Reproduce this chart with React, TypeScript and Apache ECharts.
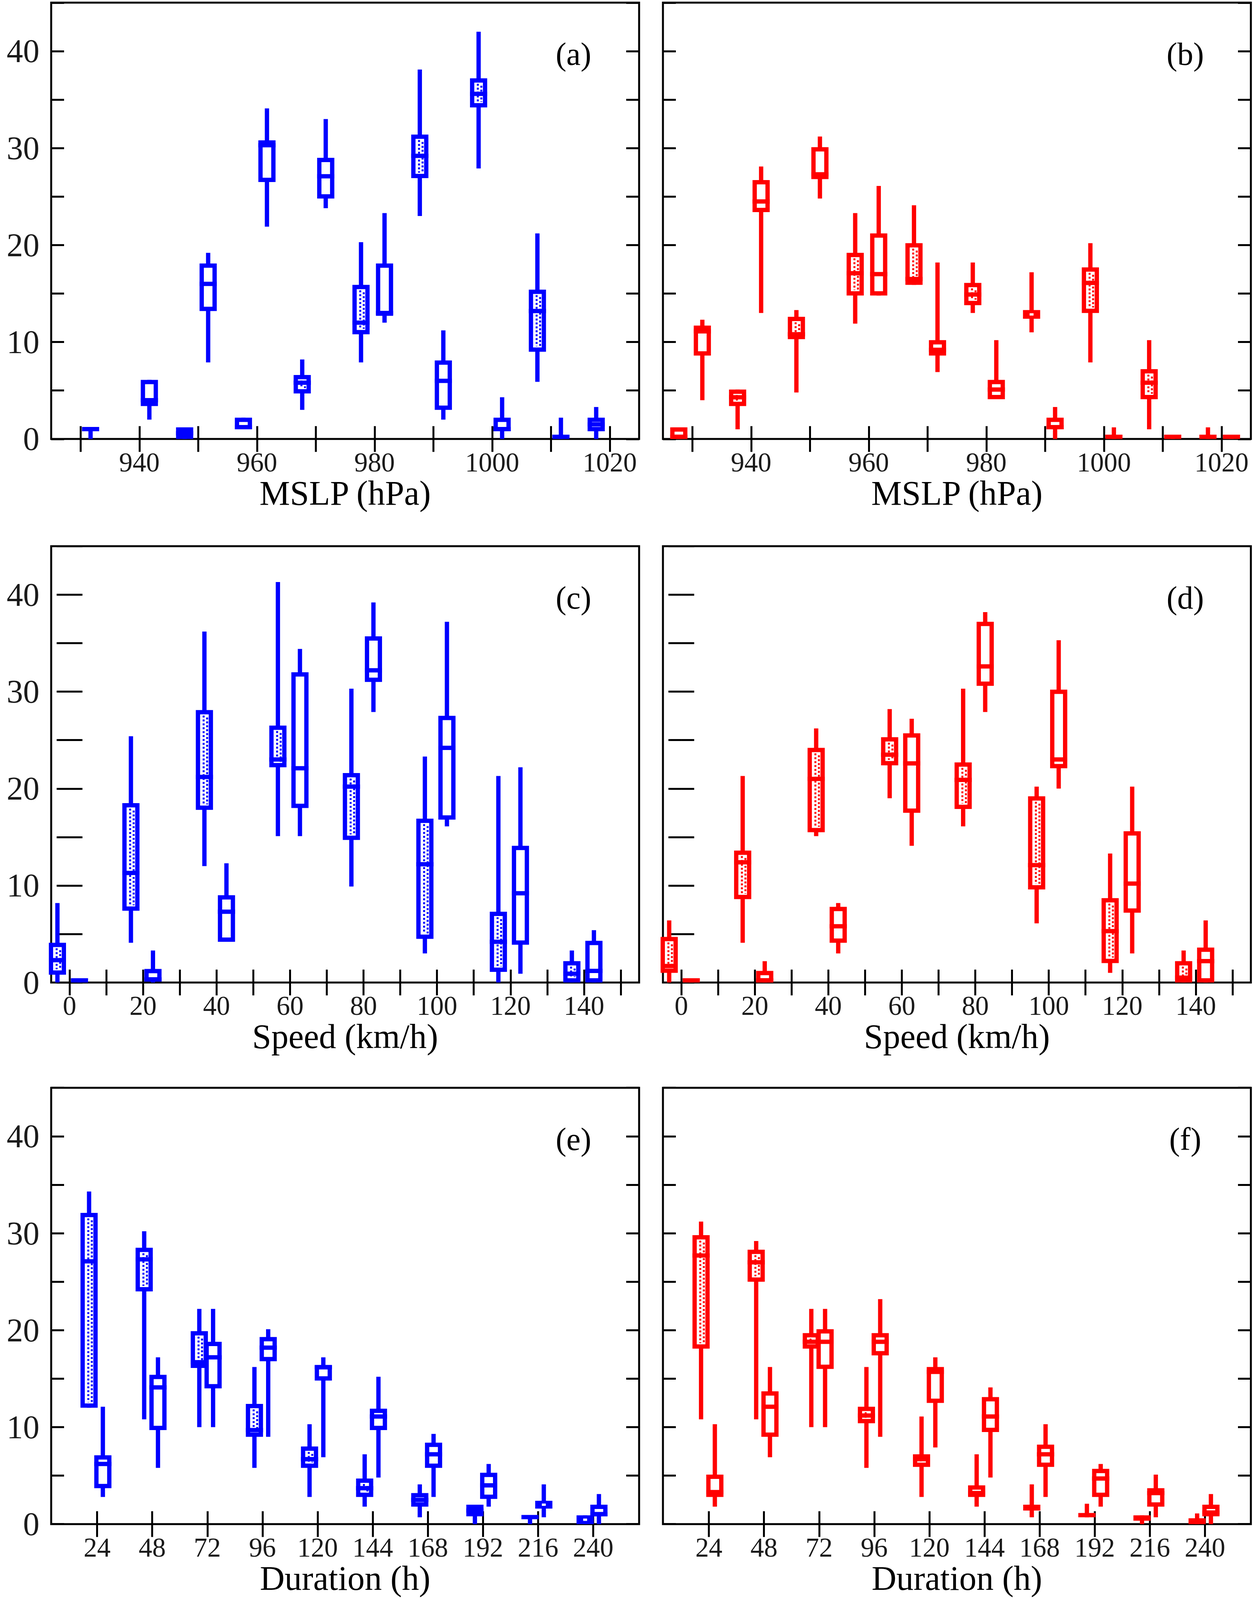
import React, { useEffect, useRef } from "react";
import * as echarts from "echarts";

// ---------- data ----------
type Box = [number, number, number, number, number] | null; // [min, q1, median, q3, max]

const MSLP_BINS = [930, 940, 950, 960, 970, 980, 990, 1000, 1010, 1020];
const SPEED_BINS = [0, 20, 40, 60, 80, 100, 120, 140];
const DURATION_BINS = [24, 48, 72, 96, 120, 144, 168, 192, 216, 240];

const MSLP_TICKS = [930, 940, 950, 960, 970, 980, 990, 1000, 1010, 1020];
const MSLP_LABELS = [940, 960, 980, 1000, 1020];
const SPEED_TICKS = [0, 10, 20, 30, 40, 50, 60, 70, 80, 90, 100, 110, 120, 130, 140, 150];
const SPEED_LABELS = [0, 20, 40, 60, 80, 100, 120, 140];
const DURATION_TICKS = [24, 48, 72, 96, 120, 144, 168, 192, 216, 240];
const DURATION_LABELS = [24, 48, 72, 96, 120, 144, 168, 192, 216, 240];
const Y_LABELS = [0, 10, 20, 30, 40];

// (a) MSLP, blue
const aDotted: Box[] = [
  null,
  null,
  [0, 0, 0.6, 1.2, 1.2],
  [1.0, 1.0, 1.0, 2.2, 2.2],
  [3.0, 4.7, 5.8, 6.6, 8.2],
  [7.9, 10.8, 12.0, 15.9, 20.3],
  [23.0, 26.9, 29.2, 31.4, 38.1],
  [27.9, 34.2, 35.6, 37.2, 42.0],
  [5.9, 9.0, 13.2, 15.4, 21.2],
  [0, 0.8, 1.5, 2.2, 3.3],
];
const aPlain: Box[] = [
  [0, 0.8, 1.0, 1.2, 1.2],
  [2.0, 3.4, 4.0, 6.1, 6.1],
  [7.9, 13.2, 16.0, 18.1, 19.2],
  [21.9, 26.5, 30.3, 30.8, 34.1],
  [23.8, 24.8, 27.1, 29.0, 33.0],
  [12.0, 12.7, 13.0, 18.1, 23.3],
  [2.0, 3.0, 6.0, 8.1, 11.2],
  [0, 0.8, 0.8, 2.2, 4.3],
  [0, 0, 0, 0.2, 2.2],
  null,
];

// (b) MSLP, red
const bDotted: Box[] = [
  [0, 0, 0, 1.2, 1.2],
  [1.0, 3.4, 4.3, 5.1, 5.1],
  [4.8, 10.3, 10.8, 12.6, 13.3],
  [11.9, 14.8, 17.1, 19.2, 23.3],
  [15.9, 15.9, 16.5, 20.2, 24.1],
  [13.0, 13.8, 14.9, 16.1, 18.2],
  [11.0, 12.4, 12.8, 13.3, 17.2],
  [7.9, 13.0, 16.1, 17.7, 20.2],
  [1.0, 4.1, 5.8, 7.2, 10.2],
  [0, 0, 0, 0.2, 1.2],
];
const bPlain: Box[] = [
  [4.0, 8.6, 11.1, 11.7, 12.3],
  [13.0, 23.4, 24.5, 26.7, 28.1],
  [24.8, 26.8, 27.3, 30.1, 31.2],
  [14.8, 14.8, 17.0, 21.2, 26.1],
  [6.9, 8.6, 9.2, 10.2, 18.2],
  [4.1, 4.1, 5.1, 6.1, 10.2],
  [0, 1.0, 1.0, 2.2, 3.3],
  [0, 0, 0, 0.2, 1.2],
  [0, 0, 0, 0.2, 0.2],
  [0, 0, 0, 0.2, 0.2],
];

// (c) Speed, blue
const cDotted: Box[] = [
  [0, 0.8, 2.3, 4.1, 8.2],
  [4.1, 7.4, 11.3, 18.5, 25.4],
  [12.0, 17.8, 21.2, 28.1, 36.2],
  [15.1, 22.2, 23.0, 26.5, 41.3],
  [9.9, 14.7, 20.2, 21.6, 30.3],
  [3.0, 4.5, 12.2, 16.9, 23.3],
  [0, 1.1, 4.2, 7.3, 21.3],
  [0, 0, 0.9, 2.2, 3.3],
];
const cPlain: Box[] = [
  [0, 0, 0, 0.2, 0.2],
  [0, 0.1, 0.1, 1.4, 3.3],
  [4.2, 4.2, 7.3, 9.0, 12.3],
  [15.1, 18.0, 22.1, 32.0, 34.4],
  [27.9, 31.0, 32.2, 35.7, 39.2],
  [16.1, 16.8, 24.2, 27.5, 37.2],
  [0.9, 3.9, 9.2, 14.1, 22.2],
  [0, 0, 1.2, 4.3, 5.4],
];

// (d) Speed, red
const dDotted: Box[] = [
  [0, 1.0, 1.7, 4.7, 6.4],
  [4.1, 8.6, 12.4, 13.6, 21.3],
  [15.1, 15.5, 21.0, 24.2, 26.2],
  [19.0, 22.4, 23.5, 25.3, 28.2],
  [16.1, 17.9, 20.9, 22.7, 30.3],
  [6.1, 9.6, 12.1, 19.2, 20.2],
  [1.0, 2.0, 5.3, 8.7, 13.3],
  [0, 0, 0.5, 2.2, 3.3],
];
const dPlain: Box[] = [
  [0, 0, 0, 0.2, 0.2],
  [0, 0, 0, 1.2, 2.2],
  [3.0, 4.1, 5.8, 7.8, 8.2],
  [14.1, 17.5, 22.6, 25.7, 27.2],
  [27.9, 30.6, 32.6, 37.2, 38.2],
  [20.0, 22.1, 23.0, 30.2, 35.3],
  [3.0, 7.2, 10.2, 15.6, 20.2],
  [0, 0, 2.2, 3.6, 6.4],
];

// (e) Duration, blue
const eDotted: Box[] = [
  [12.0, 12.0, 27.1, 32.1, 34.3],
  [10.8, 24.0, 27.3, 28.5, 30.2],
  [10.0, 16.1, 16.7, 19.9, 22.2],
  [5.8, 9.0, 9.7, 12.4, 16.2],
  [2.8, 5.8, 6.7, 8.0, 10.3],
  [1.8, 2.8, 3.7, 4.7, 7.2],
  [0.7, 1.8, 2.5, 3.2, 4.1],
  [0, 0.8, 1.4, 2.0, 2.0],
  [0, 0.5, 0.7, 0.9, 0.9],
  [0, 0, 0.3, 0.9, 0.9],
];
const ePlain: Box[] = [
  [2.8, 3.7, 6.2, 7.1, 12.1],
  [5.8, 9.7, 14.1, 15.4, 17.2],
  [10.0, 14.0, 17.2, 18.8, 22.2],
  [9.0, 16.8, 18.2, 19.3, 20.1],
  [6.9, 14.8, 16.4, 16.4, 17.2],
  [4.8, 9.7, 11.1, 11.9, 15.2],
  [2.8, 5.8, 7.2, 8.4, 9.3],
  [1.8, 2.6, 4.0, 5.3, 6.2],
  [0.7, 1.6, 2.0, 2.4, 4.1],
  [0, 0.8, 0.8, 2.0, 3.1],
];

// (f) Duration, red
const fDotted: Box[] = [
  [10.8, 18.1, 27.7, 29.8, 31.2],
  [10.8, 25.0, 27.0, 28.3, 29.2],
  [10.0, 18.1, 18.8, 19.7, 22.2],
  [5.8, 10.4, 11.2, 12.1, 16.2],
  [2.8, 5.9, 6.7, 7.2, 11.1],
  [1.8, 2.8, 3.2, 4.0, 7.2],
  [0.7, 1.4, 1.7, 2.0, 4.1],
  [0.7, 0.7, 0.8, 0.9, 2.1],
  [0, 0.35, 0.6, 0.9, 0.9],
  [0, 0, 0.3, 0.6, 1.1],
];
const fPlain: Box[] = [
  [1.8, 2.8, 3.3, 5.1, 10.3],
  [6.9, 9.0, 12.1, 13.7, 16.2],
  [10.0, 16.0, 18.8, 20.1, 22.2],
  [9.0, 17.4, 18.8, 19.7, 23.2],
  [7.9, 12.5, 15.7, 16.2, 17.2],
  [4.8, 9.5, 11.1, 13.1, 14.1],
  [2.8, 5.9, 7.2, 8.2, 10.3],
  [1.8, 2.8, 4.7, 5.7, 6.2],
  [0.7, 1.8, 3.2, 3.7, 5.1],
  [0, 0.8, 1.2, 2.0, 3.1],
];

// ---------- layout / style (reference frame 3210 x 4195) ----------
const REF_W = 3210;
const REF_H = 4195;
const FONT = "Liberation Serif";
const BLUE = "#0000ff";
const RED = "#ff0000";
const COL_LEFT = [131, 1697];
const COL_W = 1505;
const ROW_TOP = [7, 1432, 2852];
const ROW_H = 1144;
const BOX_W = 44;
const LW = 11;

type Panel = {
  letter: string;
  row: number;
  col: number;
  bins: number[];
  dotted: Box[];
  plain: Box[];
  offDotted: number;
  offPlain: number;
  xMin: number;
  xMax: number;
  ticks: number[];
  labels: number[];
  title: string;
  color: string;
};

const PANELS: Panel[] = [
  { letter: "(a)", row: 0, col: 0, bins: MSLP_BINS, dotted: aDotted, plain: aPlain, offDotted: -2.3, offPlain: 1.7, xMin: 925, xMax: 1025, ticks: MSLP_TICKS, labels: MSLP_LABELS, title: "MSLP (hPa)", color: BLUE },
  { letter: "(b)", row: 0, col: 1, bins: MSLP_BINS, dotted: bDotted, plain: bPlain, offDotted: -2.3, offPlain: 1.7, xMin: 925, xMax: 1025, ticks: MSLP_TICKS, labels: MSLP_LABELS, title: "MSLP (hPa)", color: RED },
  { letter: "(c)", row: 1, col: 0, bins: SPEED_BINS, dotted: cDotted, plain: cPlain, offDotted: -3.3, offPlain: 2.7, xMin: -5, xMax: 155, ticks: SPEED_TICKS, labels: SPEED_LABELS, title: "Speed (km/h)", color: BLUE },
  { letter: "(d)", row: 1, col: 1, bins: SPEED_BINS, dotted: dDotted, plain: dPlain, offDotted: -3.3, offPlain: 2.7, xMin: -5, xMax: 155, ticks: SPEED_TICKS, labels: SPEED_LABELS, title: "Speed (km/h)", color: RED },
  { letter: "(e)", row: 2, col: 0, bins: DURATION_BINS, dotted: eDotted, plain: ePlain, offDotted: -3.5, offPlain: 2.5, xMin: 4, xMax: 260, ticks: DURATION_TICKS, labels: DURATION_LABELS, title: "Duration (h)", color: BLUE },
  { letter: "(f)", row: 2, col: 1, bins: DURATION_BINS, dotted: fDotted, plain: fPlain, offDotted: -3.4, offPlain: 2.6, xMin: 4, xMax: 260, ticks: DURATION_TICKS, labels: DURATION_LABELS, title: "Duration (h)", color: RED },
];

function makeRender(color: string, dotted: boolean) {
  return (_params: any, api: any) => {
    const x = api.value(0);
    const pMin = api.coord([x, api.value(1)]);
    const cx = pMin[0];
    const yMin = pMin[1];
    const yQ1 = api.coord([x, api.value(2)])[1];
    const yMed = api.coord([x, api.value(3)])[1];
    const yQ3 = api.coord([x, api.value(4)])[1];
    const yMax = api.coord([x, api.value(5)])[1];
    const children: any[] = [];
    if (yMin - yMax > 0.5) {
      children.push({ type: "line", shape: { x1: cx, y1: yMin, x2: cx, y2: yMax }, style: { stroke: color, lineWidth: LW } });
    }
    const h = yQ1 - yQ3;
    if (h <= 2 * LW + 2) {
      const hh = Math.max(h, LW);
      const top = yQ1 - hh;
      children.push({ type: "rect", shape: { x: cx - BOX_W / 2, y: top, width: BOX_W, height: hh }, style: { fill: color } });
      if (h > LW + 4) {
        children.push({ type: "rect", shape: { x: cx - 5, y: top + hh / 2 - 3, width: 10, height: 6 }, style: { fill: "#fff" } });
      }
    } else {
      children.push({
        type: "rect",
        shape: { x: cx - BOX_W / 2 + LW / 2, y: yQ3 + LW / 2, width: BOX_W - LW, height: h - LW },
        style: { fill: "#fff", stroke: color, lineWidth: LW },
      });
      if (dotted && h - 2 * LW > 8) {
        children.push({
          type: "line",
          shape: { x1: cx - 2, y1: yQ3 + LW + 3, x2: cx - 2, y2: yQ1 - LW - 3 },
          style: { stroke: color, lineWidth: 5, lineDash: [5, 5] },
        });
        children.push({
          type: "line",
          shape: { x1: cx + 7, y1: yQ3 + LW + 3, x2: cx + 7, y2: yQ1 - LW - 3 },
          style: { stroke: color, lineWidth: 5, lineDash: [5, 5], lineDashOffset: 5 },
        });
      }
      const ym = Math.min(Math.max(yMed, yQ3 + LW / 2), yQ1 - LW / 2);
      children.push({ type: "line", shape: { x1: cx - BOX_W / 2, y1: ym, x2: cx + BOX_W / 2, y2: ym }, style: { stroke: color, lineWidth: LW } });
    }
    return { type: "group", children };
  };
}

const plainNumber = (v: number) => String(v);

function buildOption(sx: number, sy: number) {
  const grid: any[] = [];
  const xAxis: any[] = [];
  const yAxis: any[] = [];
  const series: any[] = [];
  const graphic: any[] = [];
  const tickStyle = { color: "#000", width: 5 };
  const fs = Math.min(sx, sy);

  PANELS.forEach((p, i) => {
    const left = COL_LEFT[p.col] * sx;
    const top = ROW_TOP[p.row] * sy;
    const width = COL_W * sx;
    const height = ROW_H * sy;
    grid.push({ left, top, width, height, show: true, borderColor: "#000", borderWidth: 5, backgroundColor: "transparent", containLabel: false, outerBoundsMode: "none" });

    xAxis.push({
      type: "value", gridIndex: i, position: "bottom", min: p.xMin, max: p.xMax,
      axisLine: { show: false }, splitLine: { show: false },
      axisTick: { show: true, inside: true, length: 33, lineStyle: tickStyle, customValues: p.ticks },
      axisLabel: { show: true, customValues: p.labels, formatter: plainNumber, margin: 26 * sy, fontFamily: FONT, fontSize: 71 * fs, lineHeight: 70 * fs, color: "#1a1a1a", hideOverlap: false },
      name: p.title, nameLocation: "middle", nameGap: 102 * sy, nameMoveOverlap: false,
      nameTextStyle: { fontFamily: FONT, fontSize: 90 * fs, lineHeight: 80 * fs, color: "#000" },
    });
    xAxis.push({
      type: "value", gridIndex: i, position: "top", min: p.xMin, max: p.xMax,
      axisLine: { show: false }, splitLine: { show: false },
      axisTick: { show: true, inside: true, length: 33, lineStyle: tickStyle, customValues: p.ticks },
      axisLabel: { show: false },
    });
    yAxis.push({
      type: "value", gridIndex: i, position: "left", min: 0, max: 45, interval: 5,
      axisLine: { show: false }, splitLine: { show: false },
      axisTick: { show: true, inside: true, length: 33, lineStyle: tickStyle },
      axisLabel: { show: p.col === 0, customValues: Y_LABELS, formatter: plainNumber, margin: 30 * sx, fontFamily: FONT, fontSize: 86 * fs, color: "#1a1a1a" },
    });
    yAxis.push({
      type: "value", gridIndex: i, position: "right", min: 0, max: 45, interval: 5,
      axisLine: { show: false }, splitLine: { show: false },
      axisTick: { show: true, inside: true, length: 33, lineStyle: tickStyle },
      axisLabel: { show: false },
    });

    const toData = (arr: Box[], off: number) =>
      p.bins.map((b, k) => (arr[k] ? [b + off, ...(arr[k] as number[])] : null)).filter((d) => d !== null);

    [
      { arr: p.dotted, off: p.offDotted, dotted: true },
      { arr: p.plain, off: p.offPlain, dotted: false },
    ].forEach((g) => {
      series.push({
        type: "custom",
        xAxisIndex: 2 * i,
        yAxisIndex: 2 * i,
        dimensions: ["x", "min", "q1", "median", "q3", "max"],
        encode: { x: 0, y: [1, 2, 3, 4, 5] },
        clip: false,
        z: 3,
        renderItem: makeRender(p.color, g.dotted),
        data: toData(g.arr, g.off),
      });
    });

    graphic.push({
      type: "text",
      x: left + width - 168 * sx,
      y: top + 135 * sy,
      style: { text: p.letter, fontFamily: FONT, fontSize: 84 * fs, fill: "#000", align: "center", verticalAlign: "middle" },
      z: 10,
    });
  });

  return { animation: false, backgroundColor: "#fff", grid, xAxis, yAxis, series, graphic };
}

export default function App() {
  const ref = useRef<HTMLDivElement | null>(null);
  const vw = typeof window !== "undefined" && window.innerWidth ? Math.min(window.innerWidth, REF_W) : REF_W;
  const vh = typeof window !== "undefined" && window.innerHeight ? Math.min(window.innerHeight, REF_H) : REF_H;
  useEffect(() => {
    if (!ref.current) return;
    const chart = echarts.init(ref.current, undefined, { renderer: "svg" });
    chart.setOption(buildOption(vw / REF_W, vh / REF_H) as any);
    return () => chart.dispose();
  }, [vw, vh]);
  return <div ref={ref} style={{ position: "absolute", left: 0, top: 0, width: vw, height: vh, background: "#fff" }} />;
}
